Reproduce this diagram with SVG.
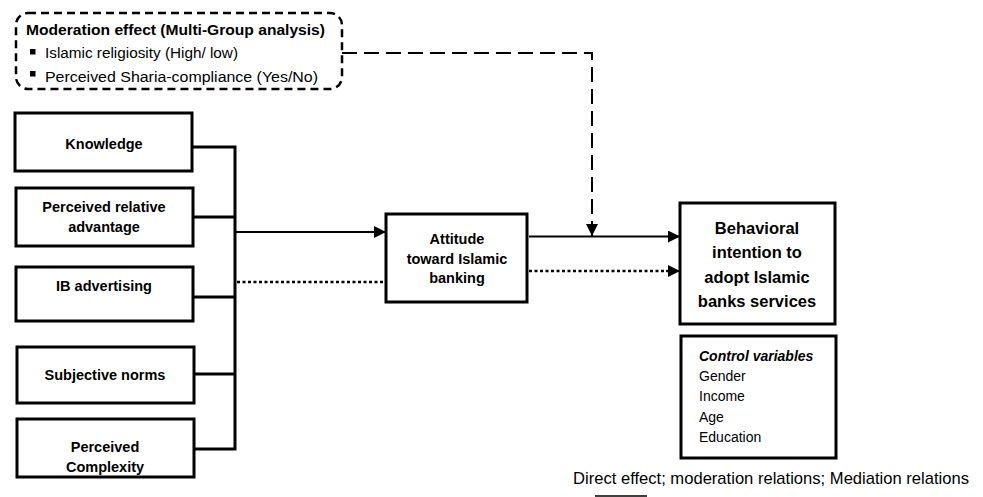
<svg xmlns="http://www.w3.org/2000/svg" width="983" height="497" viewBox="0 0 983 497">
<style>
.box{fill:#fff;stroke:#000;stroke-width:3}
.t{font-family:"Liberation Sans",Arial,sans-serif;font-size:14px;fill:#000}
.n{font-size:14.5px}
.b{font-weight:bold}
.c{text-anchor:middle}
.ln{fill:none;stroke:#000;stroke-width:2}
.bus{fill:none;stroke:#000;stroke-width:3}
.dot{fill:none;stroke:#000;stroke-width:2.5;stroke-dasharray:3 2.5}
.dash{fill:none;stroke:#000;stroke-width:2;stroke-dasharray:15 7}
</style>
<defs>
<marker id="ah" markerUnits="userSpaceOnUse" markerWidth="12" markerHeight="12" refX="12" refY="6" orient="auto">
<path d="M0,0 L12,6 L0,12 z" fill="#000"/>
</marker>
</defs>
<rect width="983" height="497" fill="#fff"/>

<g id="moderation">
<rect x="16" y="13" width="326" height="76" rx="12" fill="none" stroke="#000" stroke-width="2.5" stroke-dasharray="8 5"/>
<text class="t b" x="26" y="35" textLength="299" lengthAdjust="spacingAndGlyphs">Moderation effect (Multi-Group analysis)</text>
<rect x="30" y="49" width="5.5" height="5.5" fill="#000"/>
<text class="t" x="45" y="58" textLength="193" lengthAdjust="spacingAndGlyphs">Islamic religiosity (High/ low)</text>
<rect x="30" y="71" width="5.5" height="5.5" fill="#000"/>
<text class="t" x="45" y="82" textLength="273" lengthAdjust="spacingAndGlyphs">Perceived Sharia-compliance (Yes/No)</text>
</g>

<g id="knowledge">
<rect class="box" x="15" y="113" width="177" height="58"/>
<text class="t n b c" x="104" y="149">Knowledge</text>
</g>
<g id="advantage">
<rect class="box" x="16" y="188" width="177" height="58"/>
<text class="t n b c" x="104" y="212">Perceived relative</text>
<text class="t n b c" x="104" y="232">advantage</text>
</g>
<g id="advertising">
<rect class="box" x="16" y="267" width="177" height="54"/>
<text class="t n b c" x="104" y="291">IB advertising</text>
</g>
<g id="norms">
<rect class="box" x="17" y="347" width="177" height="56"/>
<text class="t n b c" x="105" y="380">Subjective norms</text>
</g>
<g id="complexity">
<rect class="box" x="17" y="419" width="177" height="58"/>
<text class="t n b c" x="105" y="452">Perceived</text>
<text class="t n b c" x="105" y="472">Complexity</text>
</g>

<g id="attitude">
<rect class="box" x="386" y="214" width="141" height="88"/>
<text class="t n b c" x="457" y="244">Attitude</text>
<text class="t n b c" x="457" y="264">toward Islamic</text>
<text class="t n b c" x="457" y="283">banking</text>
</g>

<g id="intention">
<rect class="box" x="680" y="203" width="155" height="121"/>
<text class="t b c" x="757" y="234" style="font-size:16.5px">Behavioral</text>
<text class="t b c" x="757" y="258" style="font-size:16.5px">intention to</text>
<text class="t b c" x="757" y="283" style="font-size:16.5px">adopt Islamic</text>
<text class="t b c" x="757" y="307" style="font-size:16.5px">banks services</text>
</g>

<g id="controls">
<rect class="box" x="681" y="336" width="155" height="122"/>
<text class="t b" x="699" y="361" font-style="italic">Control variables</text>
<text class="t" x="699" y="381">Gender</text>
<text class="t" x="699" y="401">Income</text>
<text class="t" x="699" y="422">Age</text>
<text class="t" x="699" y="442">Education</text>
</g>

<g id="connectors">
<path class="bus" d="M192,147 H235 M193,217 H235 M193,297 H235 M194,374 H235 M194,449 H235 M235,145.5 V450.5"/>
<path class="ln" d="M235,232 H386" marker-end="url(#ah)"/>
<path class="dot" d="M237,282 H386"/>
<path class="ln" d="M529,236.5 H680" marker-end="url(#ah)"/>
<path class="dot" d="M529,271 H668"/>
<path class="ln" d="M666,271 H680" marker-end="url(#ah)"/>
<path class="dash" d="M342,53 H592 V236" marker-end="url(#ah)"/>
</g>

<g id="legend">
<text class="t" x="573" y="484" style="font-size:16.6px" textLength="396" lengthAdjust="spacingAndGlyphs">Direct effect; moderation relations; Mediation relations</text>
<line x1="595" y1="496" x2="647" y2="496" stroke="#000" stroke-width="1.5"/>
</g>
</svg>
